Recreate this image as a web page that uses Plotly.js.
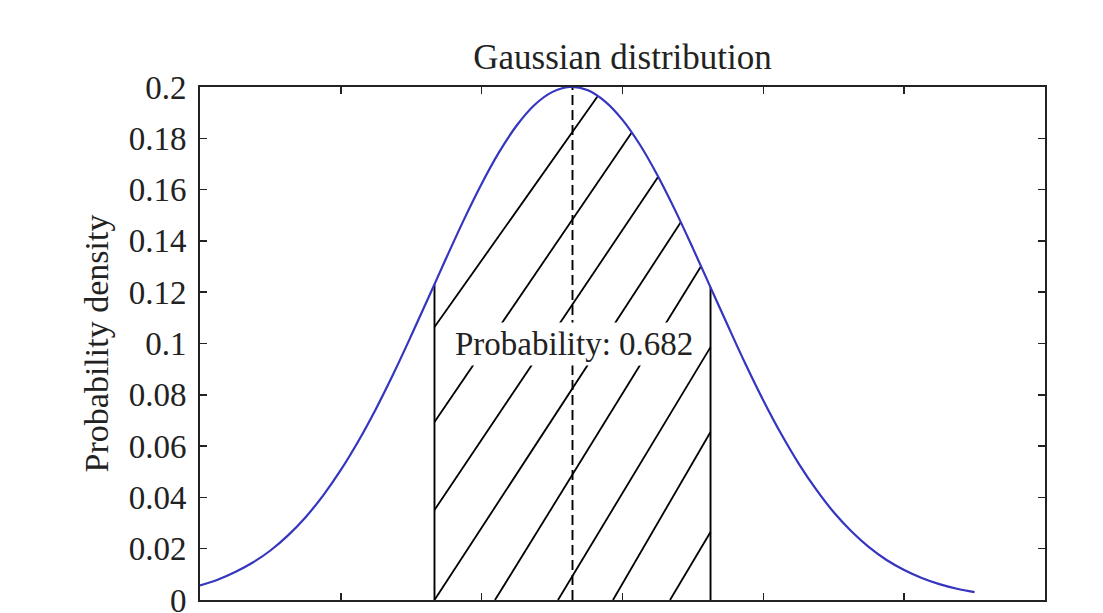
<!DOCTYPE html>
<html>
<head>
<meta charset="utf-8">
<script src="https://cdn.plot.ly/plotly-3.0.1.min.js"></script>
<style>
html,body{margin:0;padding:0;background:#ffffff;}
#chart{width:1103px;height:613px;}
</style>
</head>
<body>
<div id="chart"></div>
<script>
// ---- data ----
const curveX = [0,0.25,0.5,0.75,1,1.25,1.5,1.75,2,2.25,2.5,2.75,3,3.25,3.5,3.75,4,4.25,4.5,4.75,5,5.25,5.5,5.75,6,6.25,6.5,6.75,7,7.25,7.5,7.75,8,8.25,8.5,8.75,9,9.25,9.5,9.75,10,10.25,10.5,10.75,11];
const curveY = [0.0057,0.0079,0.0109,0.0146,0.0193,0.0252,0.0323,0.0408,0.0507,0.0620,0.0746,0.0884,0.1031,0.1182,0.1335,0.1484,0.1623,0.1747,0.1851,0.1930,0.1980,0.2000,0.1988,0.1944,0.1872,0.1774,0.1654,0.1518,0.1371,0.1219,0.1067,0.0918,0.0778,0.0649,0.0533,0.0431,0.0342,0.0268,0.0206,0.0156,0.0117,0.0086,0.0062,0.0044,0.0031];
const meanX = 5.29;
const bandBounds = [3.33, 7.25];
const probabilityText = 'Probability: 0.682';
const labelPos = [5.31, 0.1];
// hatch lines: start point and a second point along each line
const hatchX0 = [3.33, 3.33, 3.33, 3.33, 4.189, 5.084, 5.865, 6.675];
const hatchY0 = [0.1064, 0.0694, 0.0351, 0, 0, 0, 0, 0];
const hatchX1 = [5.609, 6.107, 6.504, 6.802, 7.100, 7.25, 7.25, 7.25];
const hatchY1 = [0.1949, 0.1813, 0.1649, 0.1462, 0.1294, 0.0986, 0.0655, 0.0265];
const yTickVals = [0,0.02,0.04,0.06,0.08,0.1,0.12,0.14,0.16,0.18,0.2];
const yTickText = ['0','0.02','0.04','0.06','0.08','0.1','0.12','0.14','0.16','0.18','0.2'];
const xTickVals = [0,2,4,6,8,10,12];
const chartTitle = 'Gaussian distribution';
const yTitle = 'Probability density';

// ---- helpers ----
function curveAt(x){
  for(let i=0;i<curveX.length-1;i++){
    if(x>=curveX[i] && x<=curveX[i+1]){
      const t=(x-curveX[i])/(curveX[i+1]-curveX[i]);
      return curveY[i]+t*(curveY[i+1]-curveY[i]);
    }
  }
  return 0;
}
const xL = bandBounds[0], xR = bandBounds[1];
const hx = [], hy = [];
for(let k=0;k<hatchX0.length;k++){
  const x0=hatchX0[k], y0=hatchY0[k];
  const m=(hatchY1[k]-y0)/(hatchX1[k]-x0);
  let xe = xR;
  for(let x=x0; x<=xR; x+=0.0005){
    if(y0+m*(x-x0) >= curveAt(x)){ xe = x; break; }
  }
  hx.push(x0, xe, null);
  hy.push(y0, y0+m*(xe-x0), null);
}

const font = 'Liberation Serif, Times New Roman, serif';
const traces = [
  {x:hx, y:hy, mode:'lines', line:{color:'#000000', width:1.8}, hoverinfo:'skip', showlegend:false},
  {x:[xL,xL,null,xR,xR], y:[0,curveAt(xL),null,0,curveAt(xR)], mode:'lines',
   line:{color:'#000000', width:1.9}, hoverinfo:'skip', showlegend:false},
  {x:[meanX,meanX], y:[0,curveAt(meanX)], mode:'lines',
   line:{color:'#000000', width:1.9, dash:'10px,5px'}, hoverinfo:'skip', showlegend:false},
  {x:curveX, y:curveY, mode:'lines', line:{color:'#3535c0', width:2.2, shape:'spline'},
   showlegend:false}
];

const layout = {
  width:1103, height:613,
  paper_bgcolor:'#ffffff', plot_bgcolor:'#ffffff',
  margin:{l:200, r:58, t:87, b:13, pad:0},
  font:{family:font, size:33, color:'#222222'},
  title:{text:chartTitle, x:0.5, xref:'paper', xanchor:'center', y:1-57/613, yref:'container', yanchor:'middle',
         font:{family:font, size:35, color:'#222222'}},
  xaxis:{range:[0,12], tickvals:xTickVals, ticks:'inside', ticklen:7, tickwidth:1.5, tickcolor:'#222',
         showticklabels:false, showgrid:false, zeroline:false, showline:true, linecolor:'#222', linewidth:1.8,
         mirror:'ticks', fixedrange:true},
  yaxis:{range:[0,0.2], tickvals:yTickVals, ticktext:yTickText, ticks:'inside', ticklen:7, tickwidth:1.5, tickcolor:'#222',
         showgrid:false, zeroline:false, showline:true, linecolor:'#222', linewidth:1.8, mirror:'ticks',
         tickfont:{family:font, size:33, color:'#222222'}, ticklabelstandoff:5, ticklabeloverflow:'allow',
         title:{text:yTitle, standoff:10, font:{family:font, size:34, color:'#222222'}}, fixedrange:true},
  annotations:[{x:labelPos[0], y:labelPos[1], xref:'x', yref:'y', text:probabilityText, showarrow:false,
    xanchor:'center', yanchor:'middle', bgcolor:'#ffffff', borderpad:3,
    font:{family:font, size:33, color:'#222222'}}]
};

Plotly.newPlot('chart', traces, layout, {displayModeBar:false, staticPlot:true});
</script>
</body>
</html>
